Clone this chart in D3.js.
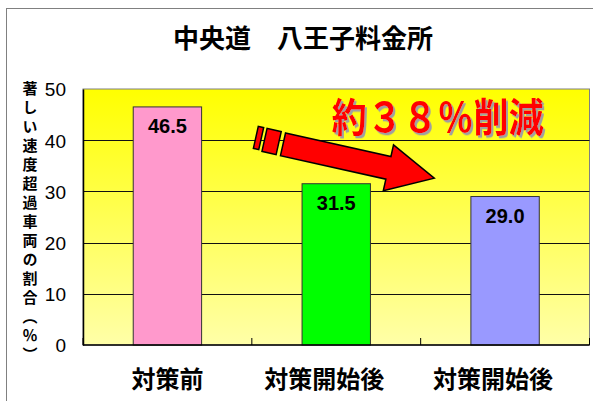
<!DOCTYPE html>
<html lang="ja">
<head>
    <meta charset="UTF-8">
    <title>中央道 八王子料金所</title>
    <script src="https://d3js.org/d3.v7.min.js"></script>
    <style>
        body {
            margin: 0;
            background: #fff;
        }
        svg {
            display: block;
        }
        .cjk {
            font-family: "Noto Sans CJK JP", sans-serif;
            font-weight: 700;
        }
        .num {
            font-family: "Liberation Sans", Arial, sans-serif;
        }
    </style>
</head>
<body>
    <div id="chart"></div>

    <script>
        // chart data
        const categories = ["対策前", "対策開始後\u3000", "対策開始後\u3000"];
        const values = [46.5, 31.5, 29.0];
        const barColors = ["#ff99cc", "#00ff00", "#9999ff"];
        const yTicks = [0, 10, 20, 30, 40, 50];
        const title = "中央道\u3000八王子料金所";
        const yTitle = "著しい速度超過車両の割合（％）";
        const note = "約３８％削減";

        const width = 593;
        const height = 401;
        const plot = { left: 83, right: 589.5, top: 89, bottom: 345 };

        const svg = d3.select("#chart")
            .append("svg")
            .attr("width", width)
            .attr("height", height);

        const defs = svg.append("defs");
        const grad = defs.append("linearGradient")
            .attr("id", "bg")
            .attr("x1", 0).attr("y1", 0)
            .attr("x2", 0).attr("y2", 1);
        grad.append("stop").attr("offset", "0%").attr("stop-color", "#ffff00");
        grad.append("stop").attr("offset", "100%").attr("stop-color", "#ffffa8");

        const shadow = defs.append("filter")
            .attr("id", "shadow")
            .attr("x", "-10%").attr("y", "-20%")
            .attr("width", "130%").attr("height", "150%");
        shadow.append("feDropShadow")
            .attr("dx", 2).attr("dy", 2)
            .attr("stdDeviation", 0.6)
            .attr("flood-color", "#a0a0a0")
            .attr("flood-opacity", 1);

        // outer chart frame (runs off the right and bottom)
        svg.append("rect")
            .attr("x", 6.5).attr("y", 8.5)
            .attr("width", 620).attr("height", 420)
            .attr("fill", "none")
            .attr("stroke", "#808080")
            .attr("stroke-width", 1);

        const x = d3.scaleBand()
            .domain(d3.range(categories.length))
            .range([plot.left, plot.right])
            .paddingInner(0.595)
            .paddingOuter(0.2975);

        const y = d3.scaleLinear()
            .domain([0, 50])
            .range([plot.bottom, plot.top]);

        // plot background
        svg.append("rect")
            .attr("x", plot.left).attr("y", plot.top)
            .attr("width", plot.right - plot.left)
            .attr("height", plot.bottom - plot.top)
            .attr("fill", "url(#bg)")
            .attr("stroke", "#808080")
            .attr("stroke-width", 1);

        // gridlines
        svg.append("g")
            .selectAll("line")
            .data(yTicks.filter(d => d > 0 && d < 50))
            .enter()
            .append("line")
            .attr("x1", plot.left).attr("x2", plot.right)
            .attr("y1", d => Math.round(y(d)) + 0.5)
            .attr("y2", d => Math.round(y(d)) + 0.5)
            .attr("stroke", "#111")
            .attr("stroke-width", 1);

        // bars
        svg.append("g")
            .selectAll("rect")
            .data(values)
            .enter()
            .append("rect")
            .attr("x", (d, i) => x(i))
            .attr("y", d => y(d))
            .attr("width", x.bandwidth())
            .attr("height", d => y(0) - y(d))
            .attr("fill", (d, i) => barColors[i])
            .attr("stroke", "#333")
            .attr("stroke-width", 1);

        // value labels
        svg.append("g")
            .selectAll("text")
            .data(values)
            .enter()
            .append("text")
            .attr("class", "num")
            .attr("x", (d, i) => x(i) + x.bandwidth() / 2)
            .attr("y", d => y(d) + 26)
            .attr("text-anchor", "middle")
            .attr("font-size", 20)
            .attr("font-weight", 700)
            .attr("fill", "#000")
            .text(d => d.toFixed(1));

        // y axis
        const yAxis = svg.append("g")
            .attr("transform", `translate(${plot.left},0)`)
            .call(d3.axisLeft(y).tickValues(yTicks).tickSize(0).tickPadding(17));
        yAxis.select(".domain").attr("stroke", "#000").attr("stroke-width", 1.5);
        yAxis.selectAll("text")
            .attr("class", "num")
            .attr("font-size", 19)
            .attr("fill", "#000")
            .attr("dy", "0.36em");

        // x axis: ticks sit between categories, pointing inward
        const step = x.step();
        const boundaries = d3.range(categories.length + 1).map(i => plot.left + i * step);
        svg.append("g")
            .selectAll("line")
            .data(boundaries)
            .enter()
            .append("line")
            .attr("x1", d => d).attr("x2", d => d)
            .attr("y1", plot.bottom).attr("y2", plot.bottom - 7)
            .attr("stroke", "#000");
        svg.append("line")
            .attr("x1", plot.left).attr("x2", plot.right)
            .attr("y1", plot.bottom).attr("y2", plot.bottom)
            .attr("stroke", "#000")
            .attr("stroke-width", 1.5);

        svg.append("g")
            .selectAll("text")
            .data(categories)
            .enter()
            .append("text")
            .attr("class", "cjk")
            .attr("x", (d, i) => x(i) + x.bandwidth() / 2)
            .attr("y", 388)
            .attr("text-anchor", "middle")
            .attr("font-size", 24)
            .attr("fill", "#000")
            .text(d => d);

        // title
        svg.append("text")
            .attr("class", "cjk")
            .attr("x", 303)
            .attr("y", 48)
            .attr("text-anchor", "middle")
            .attr("font-size", 26)
            .attr("fill", "#000")
            .text(title);

        // vertical y axis title
        svg.append("text")
            .attr("class", "cjk")
            .attr("x", 30)
            .attr("y", 81)
            .attr("font-size", 15)
            .attr("letter-spacing", 4)
            .style("writing-mode", "vertical-rl")
            .attr("fill", "#000")
            .text(yTitle);

        // arrow annotation, drawn in its own axis-aligned frame and rotated
        const arrow = svg.append("g")
            .attr("transform", `translate(283,${y(39.2)}) rotate(12.6)`);
        const shapes = [
            [[-28, -12], [-22.5, -12], [-22.5, 10.5], [-28, 10.5]],
            [[-19, -12], [-4.5, -12], [-4.5, 11.5], [-19, 11.5]],
            [[0, -11.6], [108, -11.6], [108, -23.5], [155, 0], [108, 23.5], [108, 11.6], [0, 11.6]]
        ];
        arrow.selectAll("polygon")
            .data(shapes)
            .enter()
            .append("polygon")
            .attr("points", d => d.map(p => p.join(",")).join(" "))
            .attr("fill", "#ff0000")
            .attr("stroke", "#000")
            .attr("stroke-width", 1.5)
            .attr("stroke-linejoin", "miter");

        // "約38%削減" with drop shadow
        svg.append("g")
            .attr("transform", "translate(438,132) scale(1,1.15)")
            .append("text")
            .attr("class", "cjk")
            .attr("x", 0).attr("y", 0)
            .attr("text-anchor", "middle")
            .attr("font-size", 35)
            .attr("letter-spacing", 0.4)
            .attr("fill", "#ff0000")
            .attr("filter", "url(#shadow)")
            .text(note);
    </script>
</body>
</html>
